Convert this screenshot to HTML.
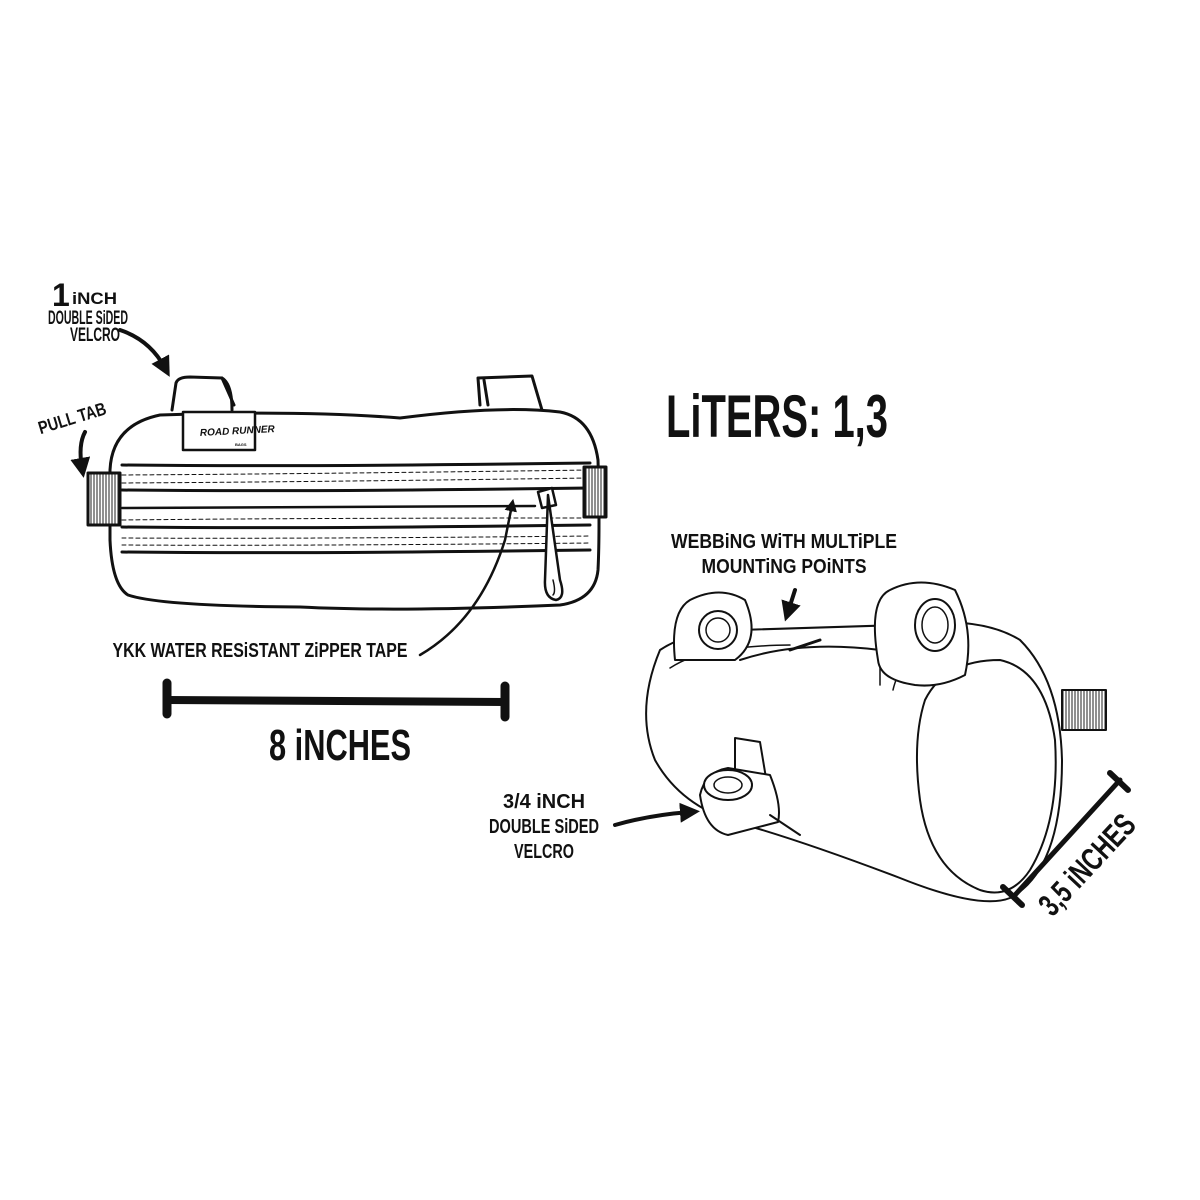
<!DOCTYPE html>
<html><head><meta charset="utf-8"><style>
html,body{margin:0;padding:0;background:#fff}
svg{display:block}
text{font-family:"Liberation Sans",sans-serif;font-weight:bold;fill:#111}
</style></head><body>
<svg width="1200" height="1200" viewBox="0 0 1200 1200" xmlns="http://www.w3.org/2000/svg">
<defs>
<pattern id="hatch" width="3" height="6" patternUnits="userSpaceOnUse"><rect width="3" height="6" fill="#fff"/><line x1="1" y1="0" x2="1" y2="6" stroke="#222" stroke-width="1"/></pattern>
<marker id="ah" viewBox="0 0 10 10" refX="5" refY="5" markerWidth="5" markerHeight="5" orient="auto"><path d="M0,0 L10,5 L0,10 Z" fill="#111"/></marker>
</defs>
<g fill="none" stroke="#111" stroke-width="3" stroke-linejoin="round" stroke-linecap="round">
<path d="M172,410 L176,383 Q178,377 190,377 L222,378 L234,405" fill="#fff"/>
<path d="M222,378 Q232,384 232,410"/>
<path d="M480,405 L478,378 L532,376 L542,410" fill="#fff"/>
<path d="M488,405 L484,380"/>
<path d="M110,470 Q112,425 160,415 Q300,410 400,418 Q500,405 560,412 Q592,418 598,460 Q600,530 598,570 Q595,600 560,605 Q400,612 300,607 Q160,606 128,595 Q112,585 110,540 Z" fill="#fff"/>
<path d="M122,465 Q300,467 590,463"/>
<path d="M122,490 Q300,492 590,488"/>
<path d="M122,527 Q300,529 590,525"/>
<path d="M122,552 Q300,554 590,550"/>
<path d="M122,520 Q300,518 590,518" stroke-width="1" stroke-dasharray="4 3"/>
<path d="M122,475 Q300,474 590,470" stroke-width="1" stroke-dasharray="4 3"/>
<path d="M122,483 Q300,482 590,478" stroke-width="1" stroke-dasharray="4 3"/>
<path d="M122,538 Q300,539 590,536" stroke-width="1" stroke-dasharray="4 3"/>
<path d="M122,545 Q300,546 590,543" stroke-width="1" stroke-dasharray="4 3"/>
<path d="M122,508 Q300,507 535,506" stroke-width="2.5"/>
<rect x="183" y="412" width="72" height="38" fill="#fff" stroke-width="2.5"/>
<rect x="88" y="473" width="32" height="52" fill="url(#hatch)"/>
<rect x="584" y="467" width="22" height="50" fill="url(#hatch)"/>
<path d="M538,492 L552,488 L556,505 L542,508 Z" fill="#fff" stroke-width="2.5"/>
<path d="M548,495 L560,580 Q566,598 556,600 Q544,598 545,580 L548,495" fill="#fff" stroke-width="2.5"/>
<path d="M553,580 Q556,592 553,595" stroke-width="1.5"/>
<path d="M120,330 Q150,340 165,368" stroke-width="4" marker-end="url(#ah)"/>
<path d="M85,432 Q78,445 82,468" stroke-width="4" marker-end="url(#ah)"/>
<path d="M420,655 Q480,620 505,540 L512,505" stroke-width="2.5" marker-end="url(#ah)"/>
<line x1="167" y1="700" x2="505" y2="702" stroke-width="8"/>
<line x1="167" y1="683" x2="167" y2="714" stroke-width="9"/>
<line x1="505" y1="686" x2="505" y2="717" stroke-width="9"/>
<path d="M660,650 Q690,630 740,630 L900,625 Q980,615 1020,640 Q1060,680 1062,760 Q1062,870 1010,898 Q980,910 900,878 Q800,840 735,822 Q680,805 655,760 Q635,710 660,650 Z" fill="#fff" stroke-width="2"/>
<path d="M925,700 Q945,660 1000,660 Q1045,670 1055,740 Q1060,820 1030,870 Q1010,900 980,890 Q930,870 920,800 Q912,740 925,700 Z" fill="#fff" stroke-width="2"/>
<path d="M670,668 Q690,655 720,650 Q760,645 790,645" stroke-width="1.5"/>
<path d="M880,665 L880,685 M910,645 Q895,680 893,690" stroke-width="1.5"/>
<path d="M675,660 Q670,612 690,600 Q720,585 745,600 Q762,640 735,660 Z" fill="#fff" stroke-width="2"/>
<circle cx="718" cy="630" r="19" fill="#fff" stroke-width="2"/><circle cx="718" cy="630" r="12" stroke-width="1.5"/>
<path d="M740,660 Q800,640 880,650" stroke-width="2"/>
<path d="M790,650 L820,640" stroke-width="3"/>
<path d="M878,660 Q868,600 890,590 Q920,575 955,590 Q975,630 965,675 Q940,688 915,685 Q880,680 878,660 Z" fill="#fff" stroke-width="2"/>
<ellipse cx="935" cy="625" rx="20" ry="26" fill="#fff" stroke-width="2"/><ellipse cx="935" cy="625" rx="13" ry="18" stroke-width="1.5"/>
<rect x="1062" y="690" width="44" height="40" fill="url(#hatch)" stroke-width="2"/>
<path d="M735,770 L735,738 L760,742 L768,790" fill="#fff" stroke-width="2"/>
<path d="M700,795 Q705,772 728,768 L770,775 Q782,805 778,822 L728,835 Q705,830 700,795 Z" fill="#fff" stroke-width="2"/>
<ellipse cx="728" cy="785" rx="24" ry="15" fill="#fff" stroke-width="2"/><ellipse cx="728" cy="785" rx="14" ry="8" stroke-width="1.5"/>
<path d="M770,815 L800,835" stroke-width="2"/>
<path d="M795,590 L788,612" stroke-width="4" marker-end="url(#ah)"/>
<path d="M615,825 Q650,815 690,812" stroke-width="4" marker-end="url(#ah)"/>
<line x1="1015" y1="895" x2="1120" y2="780" stroke-width="5"/>
<line x1="1003" y1="887" x2="1022" y2="905" stroke-width="6"/>
<line x1="1110" y1="773" x2="1128" y2="790" stroke-width="6"/>
</g>
<text x="200" y="436" font-size="10" font-style="italic" transform="rotate(-3 200 436)">ROAD RUNNER</text>
<text x="235" y="446" font-size="4" font-weight="normal">BAGS</text>
<g text-anchor="middle">
<text x="52" y="306" font-size="32" text-anchor="start">1</text>
<text x="72" y="304" font-size="17" text-anchor="start" textLength="45" lengthAdjust="spacingAndGlyphs">iNCH</text>
<text x="88" y="324" font-size="19" textLength="80" lengthAdjust="spacingAndGlyphs">DOUBLE SiDED</text>
<text x="95" y="341" font-size="19" textLength="50" lengthAdjust="spacingAndGlyphs">VELCRO</text>
<text x="74" y="424" font-size="18" transform="rotate(-17 74 424)" textLength="70" lengthAdjust="spacingAndGlyphs">PULL TAB</text>
<text x="260" y="657" font-size="20" textLength="295" lengthAdjust="spacingAndGlyphs">YKK WATER RESiSTANT ZiPPER TAPE</text>
<text x="340" y="760" font-size="44" textLength="142" lengthAdjust="spacingAndGlyphs">8 iNCHES</text>
<text x="777" y="437" font-size="60" textLength="222" lengthAdjust="spacingAndGlyphs">LiTERS: 1,3</text>
<text x="784" y="548" font-size="20" textLength="226" lengthAdjust="spacingAndGlyphs">WEBBiNG WiTH MULTiPLE</text>
<text x="784" y="573" font-size="20" textLength="165" lengthAdjust="spacingAndGlyphs">MOUNTiNG POiNTS</text>
<text x="544" y="808" font-size="20" textLength="82" lengthAdjust="spacingAndGlyphs">3/4 iNCH</text>
<text x="544" y="833" font-size="20" textLength="110" lengthAdjust="spacingAndGlyphs">DOUBLE SiDED</text>
<text x="544" y="858" font-size="20" textLength="60" lengthAdjust="spacingAndGlyphs">VELCRO</text>
<text x="1095" y="872" font-size="32" transform="rotate(-47 1095 872)" textLength="125" lengthAdjust="spacingAndGlyphs">3,5 iNCHES</text>
</g>
</svg>
</body></html>
